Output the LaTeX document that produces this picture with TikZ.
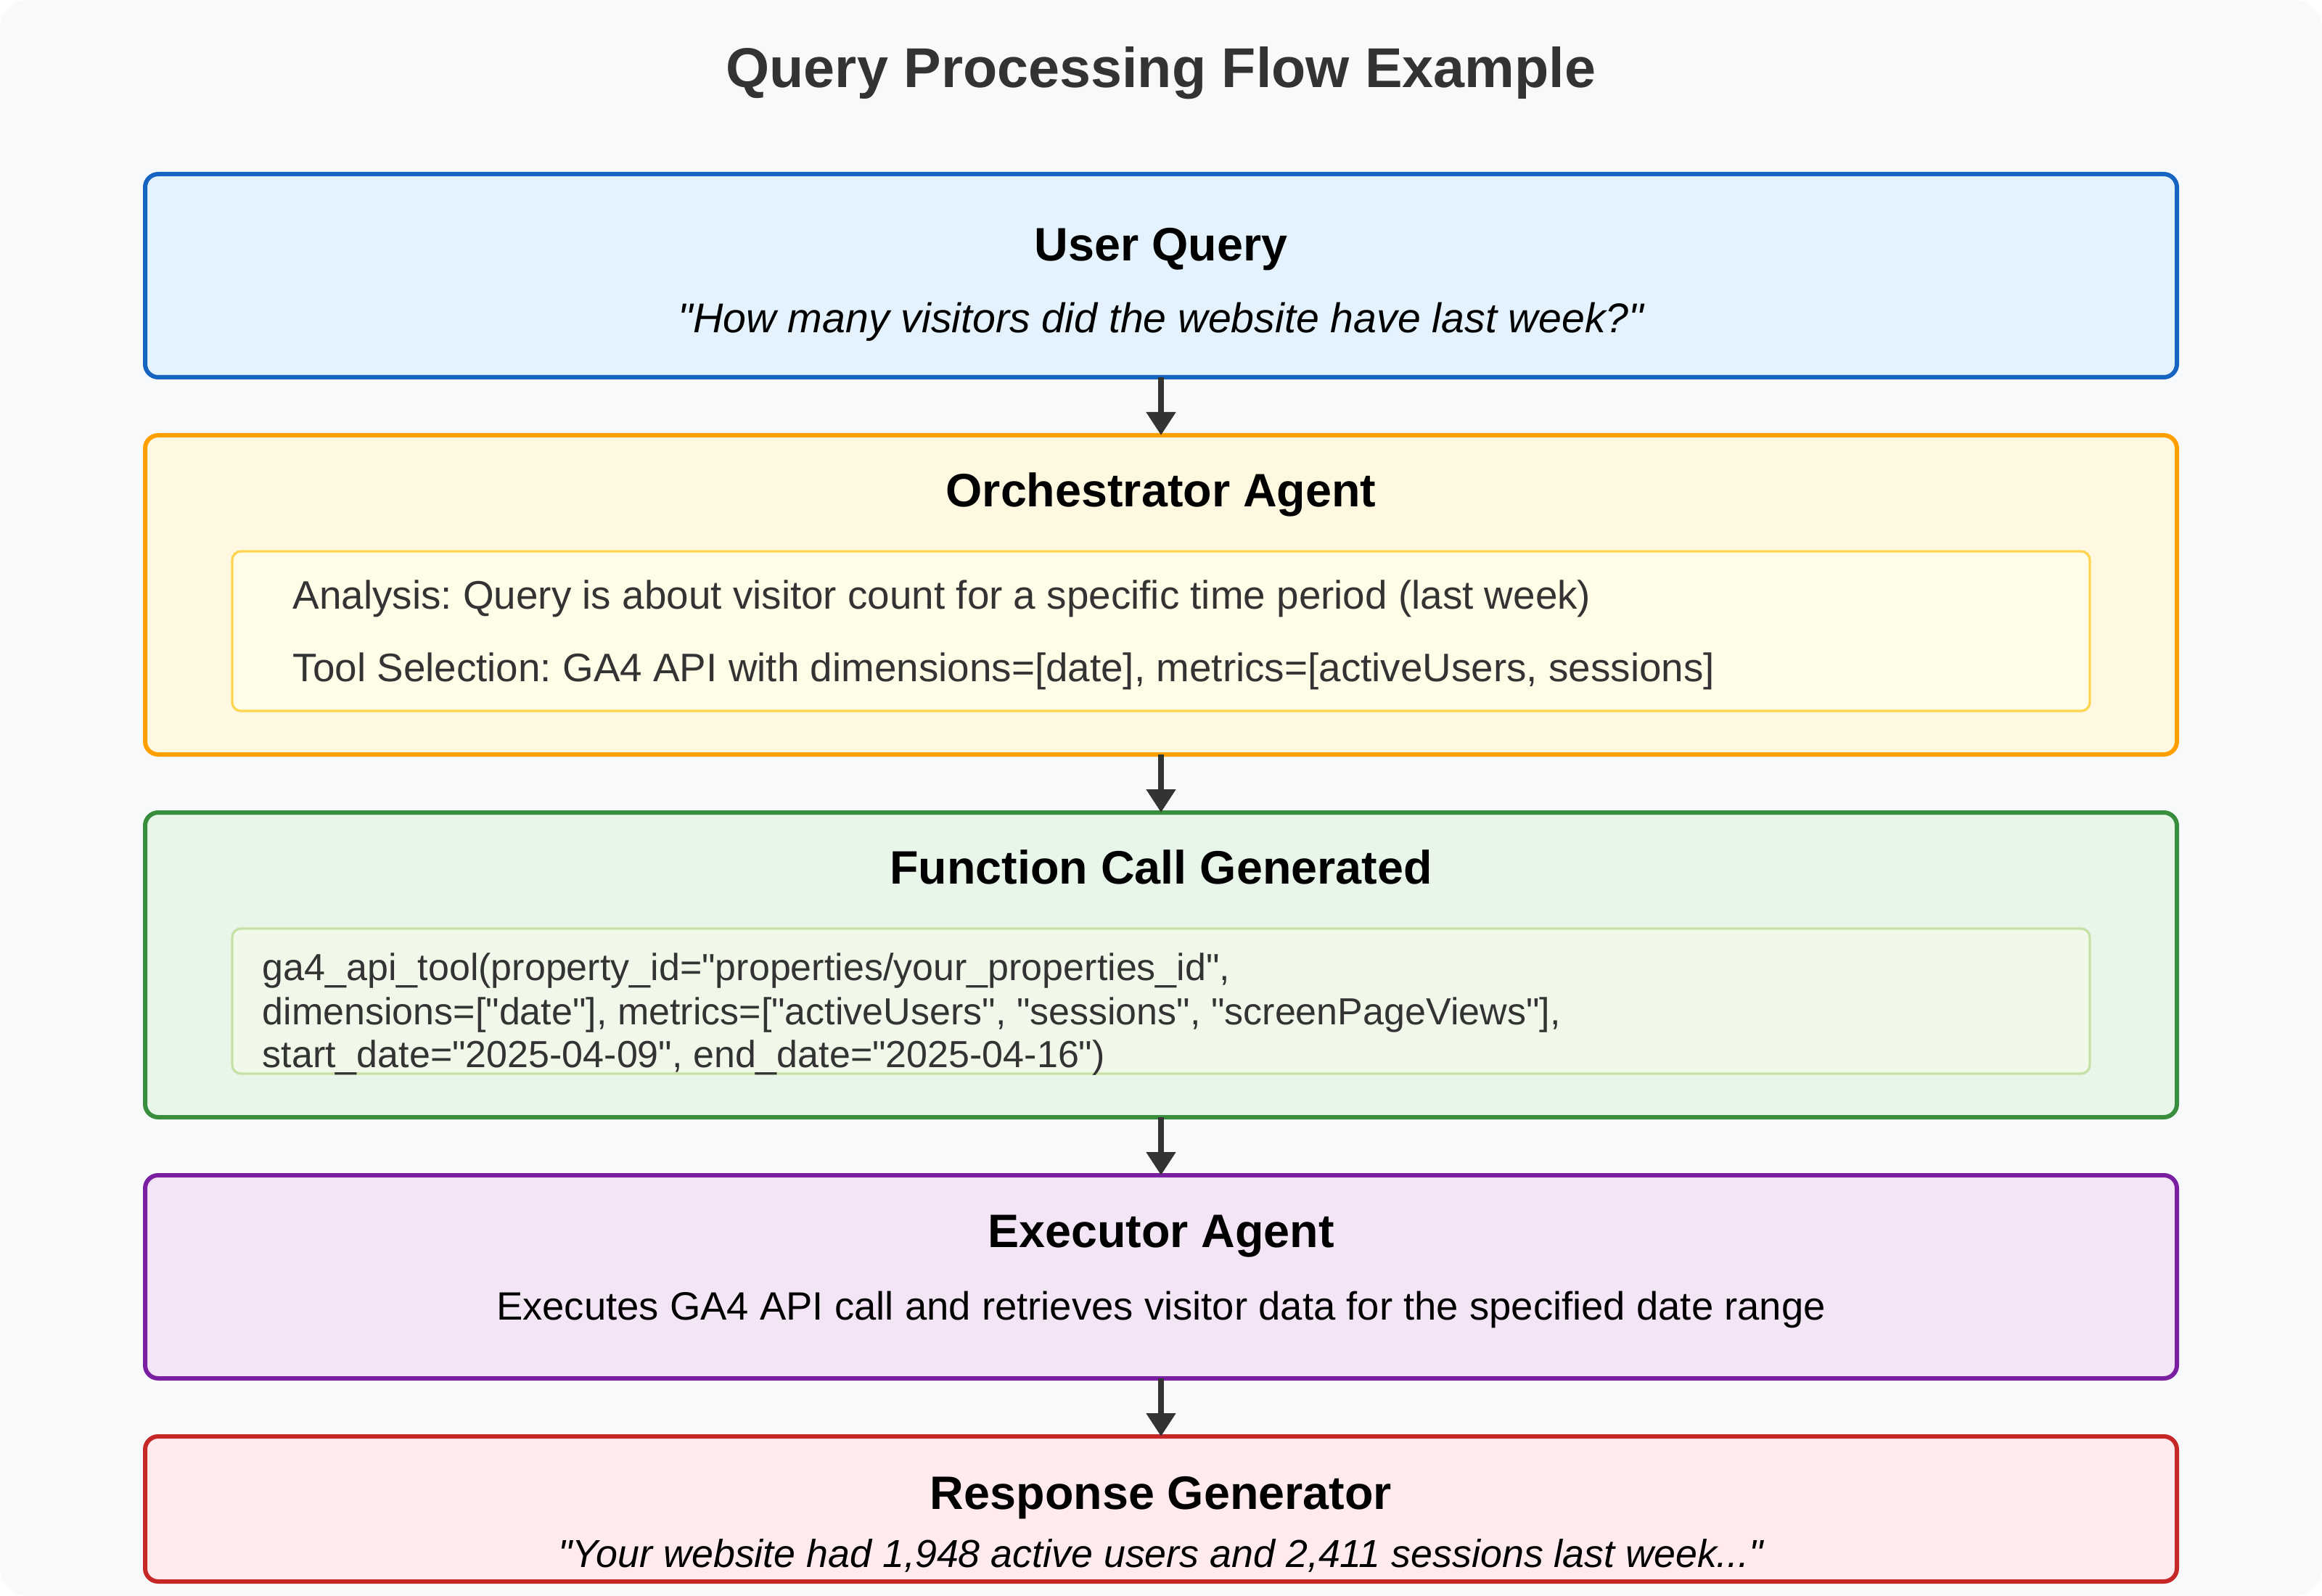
\documentclass[tikz,border=0pt]{standalone}
\usepackage{fontspec}
\setmainfont{Liberation Sans}
\usetikzlibrary{arrows.meta}
\definecolor{pagebg}{HTML}{F8F9FA}
\definecolor{txtgray}{HTML}{333333}
\definecolor{queryfill}{HTML}{E3F2FD}
\definecolor{queryline}{HTML}{1565C0}
\definecolor{orchfill}{HTML}{FFF8E1}
\definecolor{orchline}{HTML}{FFA000}
\definecolor{orchinfill}{HTML}{FFFDE7}
\definecolor{orchinline}{HTML}{FFD54F}
\definecolor{callfill}{HTML}{E8F5E9}
\definecolor{callline}{HTML}{388E3C}
\definecolor{callinfill}{HTML}{F1F8E9}
\definecolor{callinline}{HTML}{C5E1A5}
\definecolor{execfill}{HTML}{F3E5F5}
\definecolor{execline}{HTML}{7B1FA2}
\definecolor{respfill}{HTML}{FFEBEE}
\definecolor{respline}{HTML}{C62828}
\newcommand{\dq}{\textquotedbl}
\frenchspacing
\begin{document}
\begin{tikzpicture}[
    stage/.style={draw, line width=0.06cm, rounded corners=0.18cm, minimum width=28cm, outer sep=0pt, inner sep=0pt},
    panel/.style={draw, line width=0.033cm, rounded corners=0.12cm, minimum width=25.6cm, outer sep=0pt, inner sep=0pt},
    heading/.style={anchor=base, inner sep=0pt, font=\fontsize{18.4}{22}\selectfont\bfseries},
    body/.style={anchor=base, inner sep=0pt, font=\fontsize{15.5}{19}\selectfont},
    codeline/.style={anchor=base west, inner sep=0pt, text=txtgray, font=\fontsize{14.8}{18}\selectfont},
    flow/.style={txtgray, line width=0.08cm, -{Triangle[length=0.32cm,width=0.39cm]}}
]
    \useasboundingbox (0,0) rectangle (32,-22);
    \fill[white] (0,0) rectangle (32,-22);
    \fill[pagebg, rounded corners=0.4cm] (0,0) rectangle (32,-22);
    \node[anchor=base, text=txtgray, font=\fontsize{22}{26}\selectfont\bfseries] (title) at (16,-1.21) {Query Processing Flow Example};
    % stages
    \node[stage, draw=queryline, fill=queryfill, minimum height=2.8cm] (query) at (16,-3.8) {};
    \node[stage, draw=orchline, fill=orchfill, minimum height=4.4cm] (orch) at (16,-8.2) {};
    \node[stage, draw=callline, fill=callfill, minimum height=4.2cm] (call) at (16,-13.3) {};
    \node[stage, draw=execline, fill=execfill, minimum height=2.8cm] (exec) at (16,-17.6) {};
    \node[stage, draw=respline, fill=respfill, minimum height=2.0cm] (resp) at (16,-20.8) {};
    \node[panel, draw=orchinline, fill=orchinfill, minimum height=2.2cm] (analysis) at (16,-8.7) {};
    \node[panel, draw=callinline, fill=callinfill, minimum height=2.0cm] (code) at (16,-13.8) {};
    % texts
    \node[heading] (queryhead) at (16,-3.6) {User Query};
    \node[body, font=\fontsize{16.3}{19}\selectfont\itshape] (querytext) at (16,-4.59) {\dq How many visitors did the website have last week?\dq};
    \node[heading] (orchhead) at (16,-6.99) {Orchestrator Agent};
    \node[body, anchor=base west, text=txtgray, font=\fontsize{15.6}{19}\selectfont] (analysis1) at (4.03,-8.39) {Analysis: Query is about visitor count for a specific time period (last week)};
    \node[body, anchor=base west, text=txtgray, font=\fontsize{15.6}{19}\selectfont] (analysis2) at (4.03,-9.39) {Tool Selection: GA4 API with dimensions=[date], metrics=[activeUsers, sessions]};
    \node[heading] (callhead) at (16,-12.18) {Function Call Generated};
    \node[codeline] (code1) at (3.61,-13.51) {ga4\_api\_tool(property\_id=\dq properties/your\_properties\_id\dq,};
    \node[codeline] (code2) at (3.61,-14.12) {dimensions=[\dq date\dq], metrics=[\dq activeUsers\dq, \dq sessions\dq, \dq screenPageViews\dq],};
    \node[codeline] (code3) at (3.61,-14.71) {start\_date=\dq 2025-04-09\dq, end\_date=\dq 2025-04-16\dq)};
    \node[heading] (exechead) at (16,-17.19) {Executor Agent};
    \node[body] (exectext) at (16,-18.19) {Executes GA4 API call and retrieves visitor data for the specified date range};
    \node[heading] (resphead) at (16,-20.8) {Response Generator};
    \node[body, font=\fontsize{15.3}{19}\selectfont\itshape] (resptext) at (16,-21.6) {\dq Your website had 1,948 active users and 2,411 sessions last week...\dq};
    % arrows
    \draw[flow] (query.south) -- (orch.north);
    \draw[flow] (orch.south) -- (call.north);
    \draw[flow] (call.south) -- (exec.north);
    \draw[flow] (exec.south) -- (resp.north);
\end{tikzpicture}
\end{document}
